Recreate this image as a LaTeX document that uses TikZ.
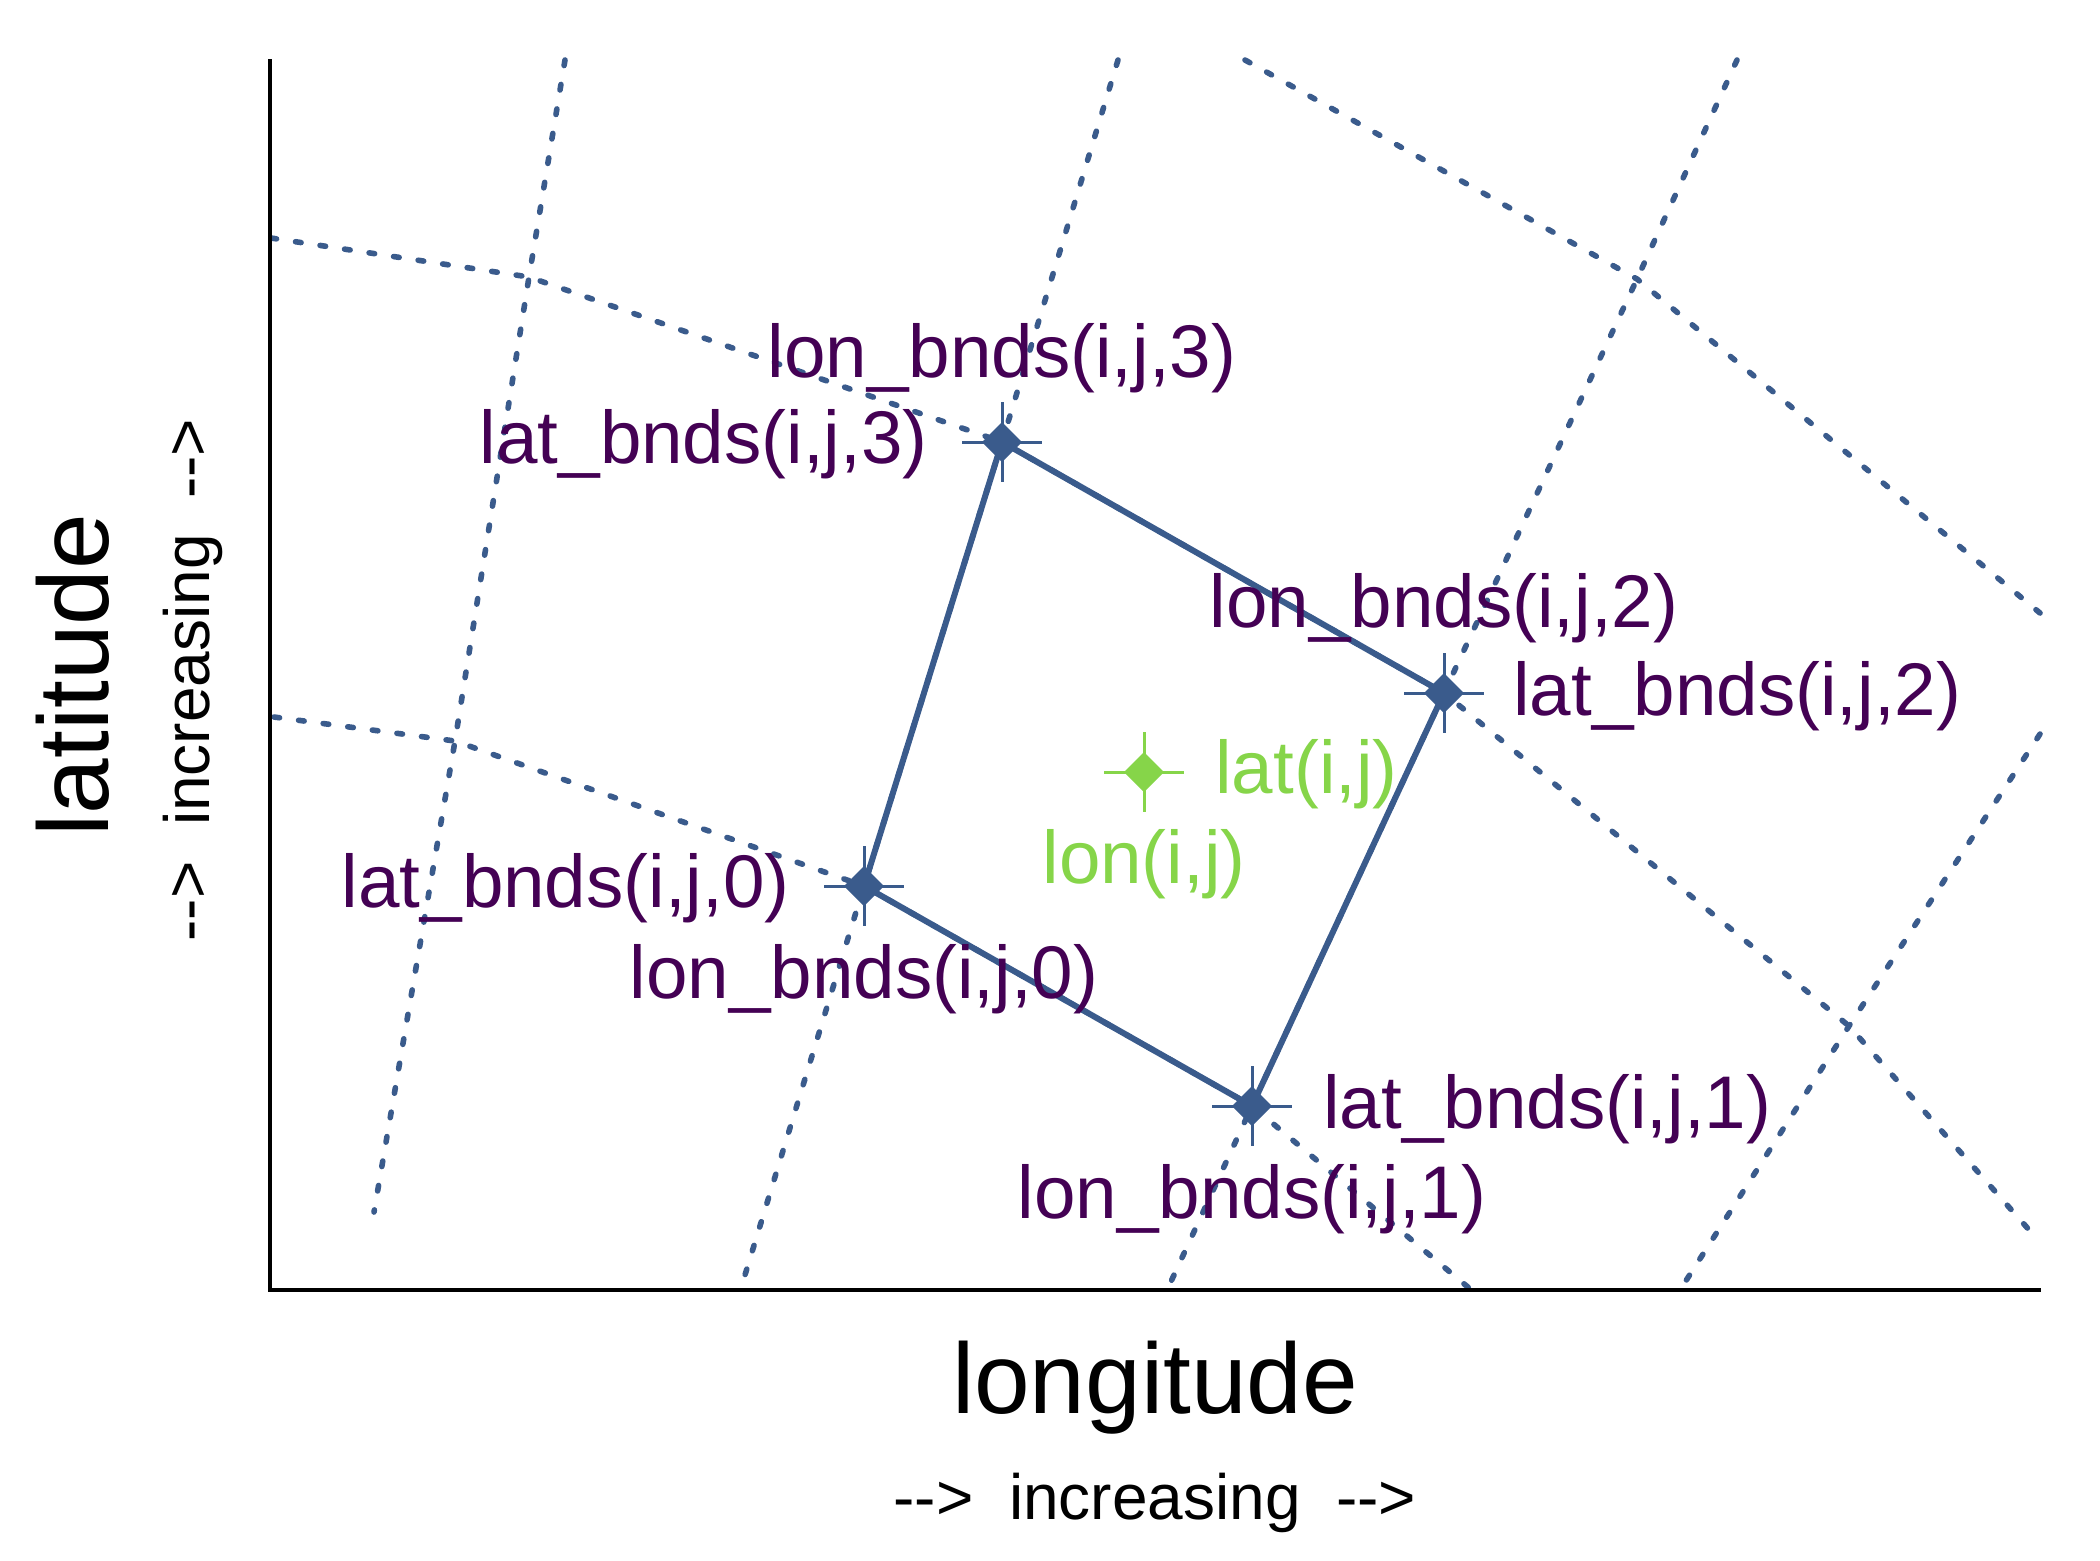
\documentclass[tikz,border=0pt]{standalone}
\usepackage{fontspec}
\setmainfont{Liberation Sans}
\usetikzlibrary{shapes.geometric}
\definecolor{gridblue}{RGB}{58,91,140}
\definecolor{labpurple}{RGB}{68,1,84}
\definecolor{ptgreen}{RGB}{134,213,73}
\begin{document}
\begin{tikzpicture}[x=0.5pt,y=-0.5pt,
  gridline/.style={gridblue, line width=2.8pt, line cap=round, line join=round, dash pattern=on 2.8pt off 9.6pt},
  celledge/.style={gridblue, line width=3pt, line join=round},
  axisline/.style={black, line width=1.6pt},
  crosshair/.style={line width=1.5pt},
  markbox/.style={diamond, aspect=1, inner sep=0pt, outer sep=0pt, minimum size=20pt},
  bndlabel/.style={labpurple, font=\fontsize{37.3}{44}\selectfont, inner sep=0pt},
  ctrlabel/.style={ptgreen, font=\fontsize{37.3}{44}\selectfont, inner sep=0pt},
  axtitle/.style={black, font=\fontsize{50}{60}\selectfont, inner sep=0pt},
  axsub/.style={black, font=\fontsize{32}{38}\selectfont, inner sep=0pt}
]
\useasboundingbox (0,0) rectangle (2100,1560);

% cell corners and centre
\coordinate (p0) at (864,886);
\coordinate (p1) at (1252,1106);
\coordinate (p2) at (1444,693);
\coordinate (p3) at (1002,442);
\coordinate (pc) at (1144,772);

% other grid points
\coordinate (v1a) at (565,60);
\coordinate (x11) at (529,277);
\coordinate (x10) at (455,741);
\coordinate (v1b) at (374,1212);
\coordinate (v2a) at (1118,60);
\coordinate (v2b) at (741,1288);
\coordinate (v3a) at (1737,60);
\coordinate (x32) at (1637,279);
\coordinate (v3b) at (1168,1288);
\coordinate (v4a) at (2040,734);
\coordinate (x41) at (1849,1026);
\coordinate (v4b) at (1680,1290);
\coordinate (h2a) at (1245,60);
\coordinate (h2b) at (2040,613);
\coordinate (h1a) at (271,238);
\coordinate (h1b) at (2038,1240);
\coordinate (h0a) at (274,717);
\coordinate (h0b) at (1469,1288);

% dashed grid
\draw[gridline] (v1a) -- (x11) -- (x10) -- (v1b);
\draw[gridline] (v2a) -- (p3) -- (p0) -- (v2b);
\draw[gridline] (v3a) -- (x32) -- (p2) -- (p1) -- (v3b);
\draw[gridline] (v4a) -- (x41) -- (v4b);
\draw[gridline] (h2a) -- (x32) -- (h2b);
\draw[gridline] (h1a) -- (x11) -- (p3) -- (p2) -- (x41) -- (h1b);
\draw[gridline] (h0a) -- (x10) -- (p0) -- (p1) -- (h0b);

% axes
\coordinate (axtop) at (270,59);
\coordinate (axorg) at (270,1290);
\coordinate (axright) at (2041,1290);
\draw[axisline] (axtop) -- (axorg) -- (axright);

% cell boundary
\draw[celledge] (p0) -- (p1) -- (p2) -- (p3) -- cycle;

% markers
\foreach \p/\c in {p0/gridblue,p1/gridblue,p2/gridblue,p3/gridblue,pc/ptgreen}{
  \draw[crosshair,\c] (\p) ++(-40,0) -- ++(80,0);
  \draw[crosshair,\c] (\p) ++(0,-40) -- ++(0,80);
  \node[markbox, fill=\c] (m\p) at (\p) {};
}

% labels
\node[bndlabel, anchor=base] (l3a) at (1002,377) {lon\_bnds(i,j,3)};
\node[bndlabel, anchor=base east] (l3b) at (928,463) {lat\_bnds(i,j,3)};
\node[bndlabel, anchor=base] (l2a) at (1444,627) {lon\_bnds(i,j,2)};
\node[bndlabel, anchor=base west] (l2b) at (1513,715) {lat\_bnds(i,j,2)};
\node[bndlabel, anchor=base west] (l1b) at (1323,1128) {lat\_bnds(i,j,1)};
\node[bndlabel, anchor=base] (l1a) at (1252,1218) {lon\_bnds(i,j,1)};
\node[bndlabel, anchor=base east] (l0b) at (790,907) {lat\_bnds(i,j,0)};
\node[bndlabel, anchor=base] (l0a) at (864,998) {lon\_bnds(i,j,0)};
\node[ctrlabel, anchor=base west] (lcb) at (1215,793) {lat(i,j)};
\node[ctrlabel, anchor=base] (lca) at (1144,883) {lon(i,j)};

% axis titles
\node[axtitle, anchor=base] (xt) at (1155,1413) {longitude};
\node[axsub, anchor=base] (xs) at (1155,1519) {-{}->\ \ increasing\ \ -{}->};
\node[axtitle, anchor=base, rotate=90] (yt) at (108,675) {latitude};
\node[axsub, anchor=base, rotate=90] (ys) at (209,680) {-{}->\ \ increasing\ \ -{}->};
\end{tikzpicture}
\end{document}
